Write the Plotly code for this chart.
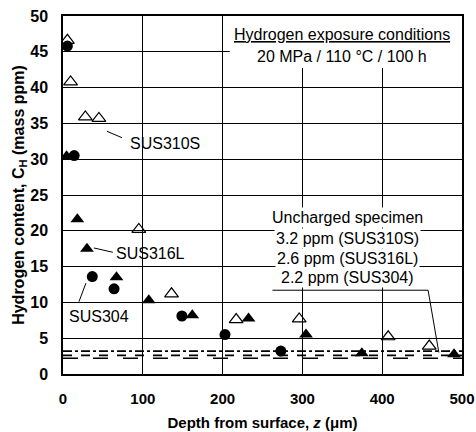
import plotly.graph_objects as go

# SUS310S (open triangles)
x_310s = [5.5, 9.5, 28, 45, 95, 136, 217, 296, 407.5, 459]
y_310s = [46.6, 40.8, 35.9, 35.7, 20.2, 11.2, 7.6, 7.7, 5.2, 3.9]
# SUS316L (filled triangles)
x_316l = [4.5, 18, 30, 67, 107.5, 162, 232.5, 304.5, 374.5, 490]
y_316l = [30.4, 21.6, 17.5, 13.5, 10.3, 8.2, 7.75, 5.5, 2.9, 2.75]
# SUS304 (filled circles)
x_304 = [5.5, 14, 36.7, 64, 149, 203, 273]
y_304 = [45.8, 30.5, 13.6, 11.9, 8.1, 5.5, 3.2]
# Uncharged specimen levels
unch_names = ["SUS310S", "SUS316L", "SUS304"]
unch_vals = [3.2, 2.6, 2.2]
unch_dash = ["dashdot", "dash", "longdash"]

FONT = "Liberation Sans, Arial, sans-serif"

fig = go.Figure()

for name, v, d in zip(unch_names, unch_vals, unch_dash):
    fig.add_trace(go.Scatter(x=[0, 500], y=[v, v], mode="lines",
                             line=dict(color="black", width=1.6, dash=d),
                             showlegend=False, hoverinfo="skip"))

fig.add_trace(go.Scatter(x=x_310s, y=y_310s, mode="markers", name="SUS310S",
                         marker=dict(symbol="triangle-up-open", size=12, color="black",
                                     line=dict(width=1.2, color="black"))))
fig.add_trace(go.Scatter(x=x_316l, y=y_316l, mode="markers", name="SUS316L",
                         marker=dict(symbol="triangle-up", size=12, color="black")))
fig.add_trace(go.Scatter(x=x_304, y=y_304, mode="markers", name="SUS304",
                         marker=dict(symbol="circle", size=11, color="black")))

# white box for top annotation
fig.add_shape(type="rect", x0=209, x1=500, y0=42.75, y1=50, xref="x", yref="y",
              fillcolor="white", line=dict(width=0), layer="between")

ann_font = dict(family=FONT, size=16, color="black")

def label(x, y, text, **kw):
    fig.add_annotation(x=x, y=y, text=text, showarrow=False, font=ann_font,
                       xref="x", yref="y", **kw)

label(350, 47.4, "<u>Hydrogen exposure conditions</u>")
label(350, 44.4, "20 MPa / 110 °C / 100 h")
label(128, 32.2, "SUS310S")
label(110, 16.9, "SUS316L")
label(45, 8.0, "SUS304")
label(356, 21.8, "Uncharged specimen", bgcolor="white")
label(356, 18.9, "3.2 ppm (SUS310S)", bgcolor="white")
label(356, 16.1, "2.6 ppm (SUS316L)", bgcolor="white")
label(356, 13.5, "2.2 ppm (SUS304)", bgcolor="white")

# leader lines
leaders = [
    (55, 33.9, 74, 33.0),
    (38.75, 17.6, 62.5, 17.0),
    (28.75, 12.7, 20, 10.1),
    (262.5, 11.7, 457.5, 11.7),
    (457.5, 11.7, 471, 3.0),
]
for x0, y0, x1, y1 in leaders:
    fig.add_shape(type="line", x0=x0, y0=y0, x1=x1, y1=y1, xref="x", yref="y",
                  line=dict(color="black", width=1))

fig.update_xaxes(range=[0, 500], tickvals=[0, 100, 200, 300, 400, 500],
                 showgrid=True, gridcolor="black", gridwidth=1,
                 showline=True, linecolor="black", linewidth=1.5, mirror=True,
                 ticks="outside", ticklen=10, tickcolor="rgba(0,0,0,0)",
                 zeroline=False, automargin=False,
                 tickfont=dict(family=FONT, size=15, color="black", weight="bold"),
                 title=dict(text="Depth from surface, <i>z</i> (μm)", standoff=12,
                            font=dict(family=FONT, size=15, color="black", weight="bold")))
fig.update_yaxes(range=[0, 50], tickvals=list(range(0, 51, 5)),
                 showgrid=True, gridcolor="black", gridwidth=1,
                 showline=True, linecolor="black", linewidth=1.5, mirror=True,
                 ticks="outside", ticklen=10, tickcolor="rgba(0,0,0,0)",
                 zeroline=False, automargin=False,
                 tickfont=dict(family=FONT, size=16, color="black", weight="bold"),
                 title=dict(text="Hydrogen content, C<sub>H</sub> (mass ppm)", standoff=2,
                            font=dict(family=FONT, size=16, color="black", weight="bold")))

fig.update_layout(width=476, height=432, margin=dict(l=63, r=14, t=16, b=58),
                  plot_bgcolor="white", paper_bgcolor="white", showlegend=False)

fig.write_html("out.html")
